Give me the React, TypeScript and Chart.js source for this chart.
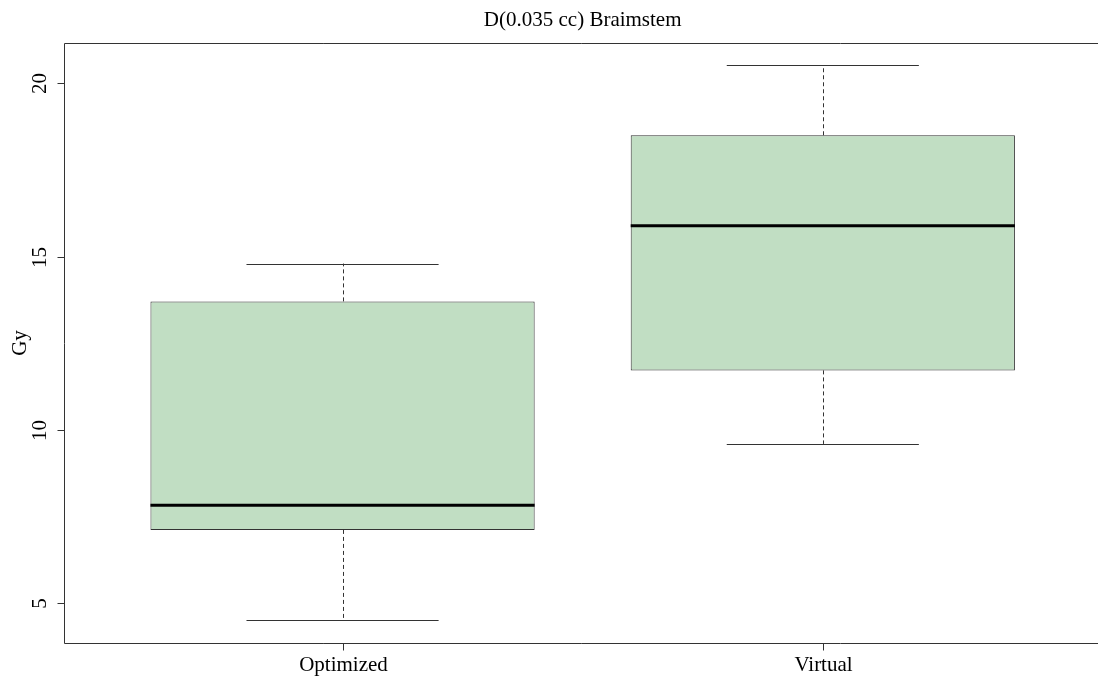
import React, { useEffect, useRef } from "react";
import { Chart, registerables } from "chart.js";

Chart.register(...registerables);

const title = "D(0.035 cc) Braimstem";
const yTitle = "Gy";
const categories = ["Optimized", "Virtual"];
const positions = [1, 2];
const whiskerLow = [4.52, 9.6];
const q1 = [7.12, 11.72];
const medians = [7.83, 15.89];
const q3 = [13.71, 18.5];
const whiskerHigh = [14.8, 20.52];
const yTicks = [5, 10, 15, 20];

const FONT = '"Liberation Serif", "Times New Roman", serif';
const LINE = "#333333";

const boxPlugin = {
  id: "rbox",
  afterDatasetsDraw(chart: any) {
    const ctx = chart.ctx;
    const xs = chart.scales.x;
    const ys = chart.scales.y;
    const meta = chart.getDatasetMeta(0);
    const a = chart.chartArea;
    ctx.save();
    for (let i = 0; i < positions.length; i++) {
      const cx = Math.round(xs.getPixelForValue(positions[i])) + 0.5;
      ctx.strokeStyle = LINE;
      ctx.lineWidth = 1;
      ctx.setLineDash([4, 3]);
      ctx.beginPath();
      ctx.moveTo(cx, ys.getPixelForValue(q3[i]));
      ctx.lineTo(cx, ys.getPixelForValue(whiskerHigh[i]));
      ctx.moveTo(cx, ys.getPixelForValue(q1[i]));
      ctx.lineTo(cx, ys.getPixelForValue(whiskerLow[i]));
      ctx.stroke();
      ctx.setLineDash([]);
      const l = xs.getPixelForValue(positions[i] - 0.2);
      const r = xs.getPixelForValue(positions[i] + 0.2);
      ctx.beginPath();
      const yh = Math.round(ys.getPixelForValue(whiskerHigh[i])) + 0.5;
      const yl = Math.round(ys.getPixelForValue(whiskerLow[i])) + 0.5;
      ctx.moveTo(l, yh);
      ctx.lineTo(r, yh);
      ctx.moveTo(l, yl);
      ctx.lineTo(r, yl);
      ctx.stroke();
      const el = meta.data[i];
      const ym = ys.getPixelForValue(medians[i]);
      ctx.strokeStyle = "#000000";
      ctx.lineWidth = 3;
      ctx.beginPath();
      ctx.moveTo(el.x - el.width / 2, ym);
      ctx.lineTo(el.x + el.width / 2, ym);
      ctx.stroke();
    }
    ctx.strokeStyle = LINE;
    ctx.lineWidth = 1;
    const L = Math.round(a.left) + 0.5;
    const T = Math.round(a.top) + 0.5;
    const B = Math.round(a.bottom) + 0.5;
    const R = Math.round(a.right) + 3;
    ctx.beginPath();
    ctx.moveTo(R, T);
    ctx.lineTo(L, T);
    ctx.lineTo(L, B);
    ctx.lineTo(R, B);
    ctx.stroke();
    ctx.fillStyle = "#000000";
    ctx.font = "21px " + FONT;
    for (const v of yTicks) {
      const py = Math.round(ys.getPixelForValue(v)) + 0.5;
      ctx.beginPath();
      ctx.moveTo(L - 7, py);
      ctx.lineTo(L, py);
      ctx.stroke();
      ctx.save();
      ctx.translate(40, py);
      ctx.rotate(-Math.PI / 2);
      ctx.textAlign = "center";
      ctx.textBaseline = "middle";
      ctx.fillText(String(v), 0, 0);
      ctx.restore();
    }
    for (let i = 0; i < positions.length; i++) {
      const px = Math.round(xs.getPixelForValue(positions[i])) + 0.5;
      ctx.beginPath();
      ctx.moveTo(px, B);
      ctx.lineTo(px, B + 7);
      ctx.stroke();
      ctx.textAlign = "center";
      ctx.textBaseline = "middle";
      ctx.fillText(categories[i], px, 665);
    }
    ctx.save();
    ctx.translate(20, (a.top + a.bottom) / 2);
    ctx.rotate(-Math.PI / 2);
    ctx.textAlign = "center";
    ctx.textBaseline = "middle";
    ctx.fillText(yTitle, 0, 0);
    ctx.restore();
    ctx.textAlign = "center";
    ctx.textBaseline = "middle";
    ctx.fillText(title, (xs.getPixelForValue(0.42) + xs.getPixelForValue(2.58)) / 2, 20);
    ctx.restore();
  },
};

export default function App() {
  const ref = useRef<HTMLCanvasElement | null>(null);
  useEffect(() => {
    if (!ref.current) return;
    const chart = new Chart(ref.current, {
      type: "bar",
      data: {
        datasets: [
          {
            data: positions.map((p, i) => ({ x: p, y: [q1[i], q3[i]] })) as any,
            backgroundColor: "#c1dec3",
            borderColor: LINE,
            borderWidth: 1,
            borderSkipped: false,
            barPercentage: 0.8,
            categoryPercentage: 1,
          },
        ],
      },
      options: {
        animation: false,
        responsive: false,
        devicePixelRatio: 1,
        layout: { padding: { left: 64, top: 43, right: 0, bottom: 35 } },
        plugins: { legend: { display: false }, tooltip: { enabled: false }, title: { display: false } },
        scales: {
          x: {
            type: "linear",
            min: 0.42,
            max: 2.573,
            offset: false,
            display: false,
            afterBuildTicks: (s: any) => {
              s.ticks = positions.map((v) => ({ value: v }));
            },
          },
          y: { type: "linear", min: 3.86, max: 21.16, display: false },
        },
      },
      plugins: [boxPlugin],
    });
    return () => chart.destroy();
  }, []);
  return (
    <div style={{ position: "fixed", left: 0, top: 0, width: 1098, height: 678, background: "#ffffff" }}>
      <canvas ref={ref} width={1098} height={678} style={{ width: 1098, height: 678, display: "block" }} />
    </div>
  );
}
